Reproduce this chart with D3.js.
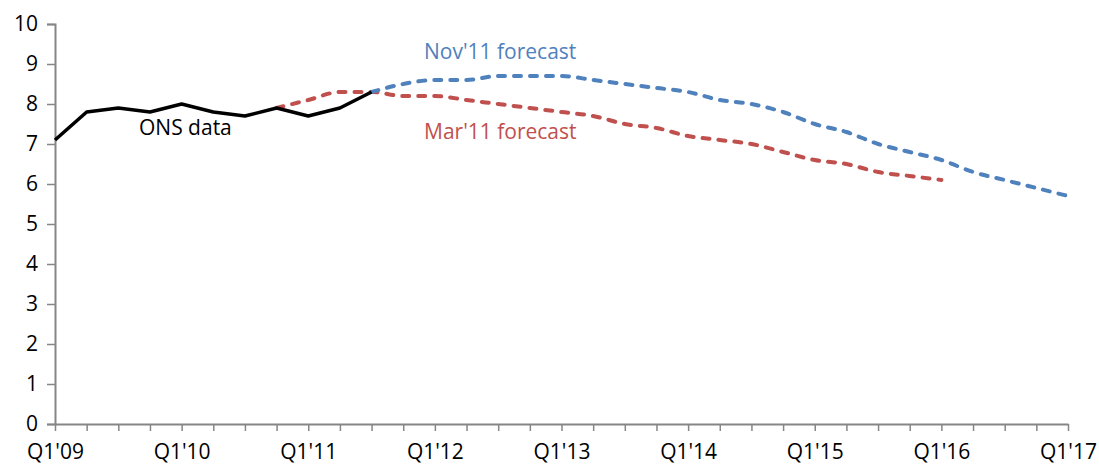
<!DOCTYPE html>
<html>
<head>
<meta charset="utf-8">
<script src="https://cdn.jsdelivr.net/npm/d3@7"></script>
<style>
  html, body { margin: 0; padding: 0; background: #fff; }
  svg { display: block; }
  text { font-family: "Open Sans", "Noto Sans", sans-serif; }
</style>
</head>
<body>
<svg id="chart" width="1099" height="465"></svg>
<script>
// Quarter categories Q1'09 .. Q1'17
const years = ["09", "10", "11", "12", "13", "14", "15", "16", "17"];
const quarterNames = ["Q1", "Q2", "Q3", "Q4"];
const quarters = [];
years.forEach((yr, i) => {
  quarterNames.forEach((q, j) => {
    if (i < years.length - 1 || j === 0) quarters.push(q + "'" + yr);
  });
});

// Outturn: Q1'09 .. Q3'11
const onsStart = "Q1'09";
const onsValues = [7.1, 7.8, 7.9, 7.8, 8.0, 7.8, 7.7, 7.9, 7.7, 7.9, 8.3];

// March 2011 projection: Q4'10 .. Q1'16
const marStart = "Q4'10";
const marValues = [7.9, 8.1, 8.3, 8.3, 8.2, 8.2, 8.1, 8.0, 7.9, 7.8, 7.7, 7.5,
                   7.4, 7.2, 7.1, 7.0, 6.8, 6.6, 6.5, 6.3, 6.2, 6.1];

// November 2011 projection: Q3'11 .. Q1'17
const novStart = "Q3'11";
const novValues = [8.3, 8.5, 8.6, 8.6, 8.7, 8.7, 8.7, 8.6, 8.5, 8.4, 8.3, 8.1,
                   8.0, 7.8, 7.5, 7.3, 7.0, 6.8, 6.6, 6.3, 6.1, 5.9, 5.7];

const yTicks = [0, 1, 2, 3, 4, 5, 6, 7, 8, 9, 10];

function toSeries(start, values) {
  const i0 = quarters.indexOf(start);
  return values.map((v, i) => ({ q: quarters[i0 + i], v }));
}

const svg = d3.select("#chart");
const plotLeft = 55, plotRight = 1068, plotTop = 24, plotBottom = 424;

const x = d3.scalePoint().domain(quarters).range([plotLeft, plotRight]);
const y = d3.scaleLinear().domain([0, 10]).range([plotBottom, plotTop]);

const axisColor = "#868686";
const fontSize = 21;

// Y axis
const gy = svg.append("g")
  .attr("transform", `translate(${plotLeft},0)`)
  .call(d3.axisLeft(y).tickValues(yTicks).tickSize(8).tickPadding(9).tickFormat(d3.format("d")));
gy.select(".domain").attr("stroke", axisColor).attr("stroke-width", 2);
gy.selectAll(".tick line").attr("stroke", axisColor).attr("stroke-width", 1.5);
gy.selectAll(".tick text").attr("fill", "#000").style("font-size", fontSize + "px")
  .style("font-family", "'Open Sans', sans-serif");

// X axis
const gx = svg.append("g")
  .attr("transform", `translate(0,${plotBottom})`)
  .call(d3.axisBottom(x).tickSize(7).tickSizeOuter(0).tickPadding(13)
    .tickFormat(d => d.startsWith("Q1") ? d : ""));
gx.select(".domain").attr("stroke", axisColor).attr("stroke-width", 2);
gx.selectAll(".tick line").attr("stroke", axisColor).attr("stroke-width", 1.5);
gx.selectAll(".tick text").attr("fill", "#000").style("font-size", fontSize + "px")
  .style("font-family", "'Open Sans', sans-serif");

const line = d3.line().x(d => x(d.q)).y(d => y(d.v));
const smooth = d3.line().x(d => x(d.q)).y(d => y(d.v)).curve(d3.curveMonotoneX);

// Projections (dashed)
svg.append("path")
  .datum(toSeries(marStart, marValues))
  .attr("d", smooth)
  .attr("fill", "none")
  .attr("stroke", "#C0504D")
  .attr("stroke-width", 4)
  .attr("stroke-linecap", "round")
  .attr("stroke-dasharray", "7,9");

svg.append("path")
  .datum(toSeries(novStart, novValues))
  .attr("d", smooth)
  .attr("fill", "none")
  .attr("stroke", "#4F81BD")
  .attr("stroke-width", 4)
  .attr("stroke-linecap", "round")
  .attr("stroke-dasharray", "7,9");

// Outturn (solid)
svg.append("path")
  .datum(toSeries(onsStart, onsValues))
  .attr("d", line)
  .attr("fill", "none")
  .attr("stroke", "#000")
  .attr("stroke-width", 3.5)
  .attr("stroke-linejoin", "round");

// Series labels
const labels = [
  { text: "ONS data", x: 139, y: 128, color: "#000" },
  { text: "Nov'11 forecast", x: 424, y: 52, color: "#4F81BD" },
  { text: "Mar'11 forecast", x: 424, y: 132, color: "#C0504D" }
];
svg.selectAll(".series-label")
  .data(labels)
  .join("text")
  .attr("class", "series-label")
  .attr("x", d => d.x)
  .attr("y", d => d.y)
  .attr("dy", "0.35em")
  .attr("fill", d => d.color)
  .style("font-size", fontSize + "px")
  .text(d => d.text);
</script>
</body>
</html>
